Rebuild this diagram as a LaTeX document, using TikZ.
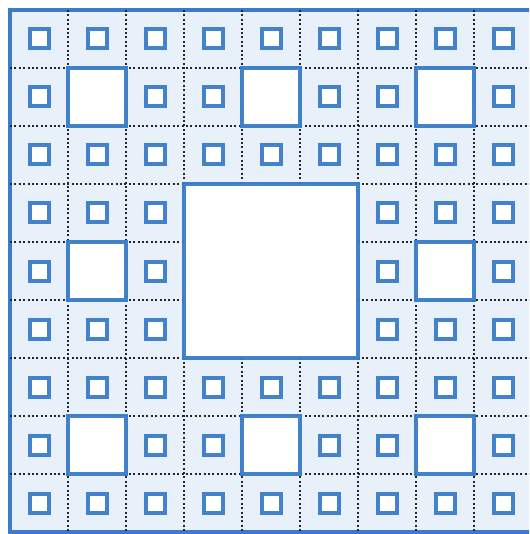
\documentclass[tikz,border=0pt]{standalone}
\usepackage{tikz}
\definecolor{carpetblue}{RGB}{58,124,202}
\definecolor{carpetfill}{RGB}{232,240,249}

\begin{document}
\begin{tikzpicture}[
  x=1pt,y=-1pt,
  border/.style={draw=carpetblue,fill=carpetfill,line width=4pt},
  gridline/.style={black!85,line width=2pt,dash pattern=on 2pt off 2.4pt},
  hole/.style={draw=carpetblue,fill=white,line width=4pt,draw opacity=0.95}
]
\useasboundingbox (0,0) rectangle (529,534);
\clip (0,0) rectangle (529,534);

% outer square and cell grid
\draw[border] (10,10) rectangle (534,532);
\foreach \i in {1,...,8} {
  \draw[gridline] (10+58*\i,10) -- (10+58*\i,532);
  \draw[gridline] (10,10+58*\i) -- (532,10+58*\i);
}

% central hole
\draw[hole] (184,184) rectangle (358,358);

% holes of one cell and of a third of a cell
\foreach \i in {0,...,8} {
  \foreach \j in {0,...,8} {
    \pgfmathtruncatemacro{\mid}{(mod(\i,3)==1)&&(mod(\j,3)==1)}
    \pgfmathtruncatemacro{\centre}{(\i>2)&&(\i<6)&&(\j>2)&&(\j<6)}
    \ifnum\centre=0
      \ifnum\mid=1
        \draw[hole] (10+58*\i,10+58*\j) rectangle ++(58,58);
      \else
        \draw[hole] (29.5+58*\i,29.5+58*\j) rectangle ++(19,19);
      \fi
    \fi
  }
}

\end{tikzpicture}
\end{document}
